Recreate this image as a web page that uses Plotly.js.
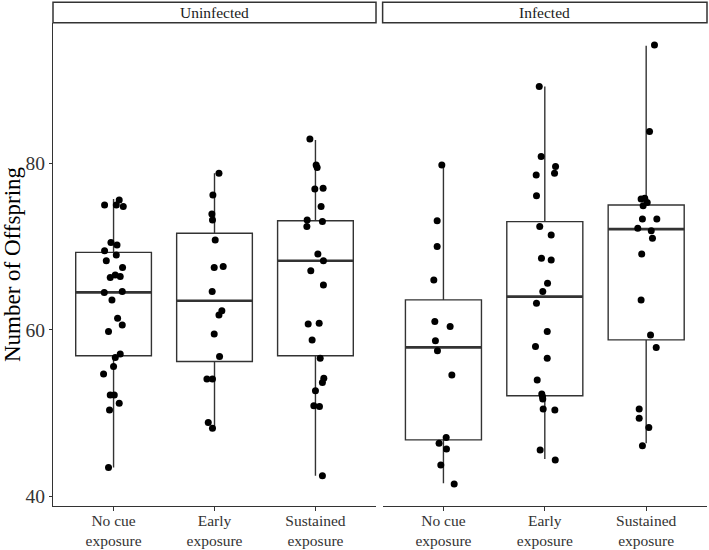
<!DOCTYPE html>
<html>
<head>
<meta charset="utf-8">
<script src="https://cdn.plot.ly/plotly-3.0.1.min.js"></script>
<style>html,body{margin:0;padding:0;background:#fff;}#chart{width:709px;height:550px;}</style>
</head>
<body>
<div id="chart"></div>
<script>
// ---- Data ----
const categories = ['No cue exposure', 'Early exposure', 'Sustained exposure'];
const tickLabels = ['No cue<br>exposure', 'Early<br>exposure', 'Sustained<br>exposure'];
const panels = ['Uninfected', 'Infected'];
const yTicks = [40, 60, 80];
const yTitle = 'Number of Offspring';

// Uninfected, No cue exposure
const uNoCueY   = [75.0, 75.6, 75.0, 74.8, 70.5, 70.2, 69.5, 69.0, 68.3, 67.5, 66.3, 66.6, 66.4, 64.5, 64.6, 63.6, 61.4, 60.6, 59.8, 57.1, 56.7, 55.6, 54.7, 52.2, 52.2, 51.2, 50.4, 43.5];
const uNoCueJit = [-0.089, 0.056, 0.027, 0.096, -0.026, 0.034, -0.089, 0.027, -0.072, 0.089, -0.033, 0.017, 0.066, -0.092, 0.086, -0.016, 0.040, 0.086, -0.050, 0.066, 0.017, 0.000, -0.099, -0.033, 0.007, 0.056, -0.040, -0.050];
// Uninfected, Early exposure
const uEarlyY   = [78.8, 76.2, 73.9, 73.2, 70.8, 67.5, 67.6, 64.6, 62.3, 61.8, 59.5, 56.8, 54.1, 54.1, 48.9, 48.2];
const uEarlyJit = [0.044, -0.016, -0.026, -0.020, 0.007, -0.003, 0.086, -0.023, 0.073, 0.044, -0.003, 0.050, -0.075, -0.020, -0.062, -0.020];
// Uninfected, Sustained exposure
const uSustY    = [82.9, 79.8, 79.5, 76.9, 77.0, 74.8, 73.2, 73.0, 72.4, 69.1, 68.3, 67.1, 65.4, 60.7, 60.8, 58.8, 56.6, 54.2, 53.7, 52.7, 50.9, 50.8, 42.5];
const uSustJit  = [-0.055, 0.007, 0.017, -0.006, 0.076, 0.056, -0.082, 0.069, -0.085, 0.024, 0.079, -0.046, 0.079, -0.072, 0.037, -0.033, 0.047, 0.083, 0.069, 0.000, -0.016, 0.040, 0.069];
// Infected, No cue exposure
const iNoCueY   = [79.8, 73.1, 70.0, 66.0, 61.0, 60.4, 58.7, 57.5, 54.6, 47.1, 46.4, 45.7, 43.8, 41.5];
const iNoCueJit = [-0.016, -0.062, -0.062, -0.095, -0.085, 0.066, -0.079, -0.059, 0.083, 0.027, -0.043, 0.030, -0.026, 0.106];
// Infected, Early exposure
const iEarlyY   = [89.2, 80.8, 79.6, 78.6, 78.8, 76.1, 72.4, 71.4, 68.6, 68.4, 65.6, 64.6, 63.2, 59.8, 58.0, 56.6, 54.0, 52.3, 52.0, 51.7, 50.5, 50.4, 45.6, 44.4];
const iEarlyJit = [-0.055, -0.036, 0.106, -0.085, 0.096, -0.082, -0.050, 0.063, -0.033, 0.063, 0.027, -0.020, -0.082, 0.024, -0.092, 0.024, -0.075, -0.030, -0.023, -0.020, -0.016, 0.099, -0.046, 0.103];
// Infected, Sustained exposure
const iSustY    = [94.2, 83.8, 75.7, 75.8, 75.3, 74.9, 73.3, 73.3, 72.2, 71.9, 71.0, 69.1, 63.6, 59.4, 57.9, 50.5, 49.4, 48.3, 46.1];
const iSustJit  = [0.082, 0.033, -0.050, -0.014, 0.010, -0.030, -0.037, 0.105, -0.083, 0.050, 0.062, -0.044, -0.050, 0.043, 0.099, -0.069, -0.069, 0.026, -0.037];

// Box statistics (No cue, Early, Sustained)
const uQ1 = [56.9, 56.2, 56.9], uMed = [64.5, 63.5, 68.3], uQ3 = [69.3, 71.6, 73.1], uLo = [43.5, 48.2, 42.5], uHi = [75.7, 78.8, 82.8];
const iQ1 = [46.8, 52.1, 58.8], iMed = [57.9, 64.0, 72.1], iQ3 = [63.6, 73.0, 75.0], iLo = [41.6, 44.5, 46.4], iHi = [79.8, 89.2, 94.1];

// ---- Build ----
const catIdx = categories.map((c, i) => i);
const FONT = 'Liberation Serif, Times New Roman, serif';
const INK = '#333333';

function boxTrace(xa, q1, med, q3, lo, hi, lw) {
  return {
    type: 'box', xaxis: xa, yaxis: 'y', x: catIdx,
    q1: q1, median: med, q3: q3, lowerfence: lo, upperfence: hi,
    width: 0.75, whiskerwidth: 0, boxpoints: false,
    fillcolor: 'rgba(255,255,255,1)', line: {color: INK, width: lw},
    hoverinfo: 'skip', showlegend: false
  };
}
function medianTrace(xa, med) {
  return boxTrace(xa, med, med, med, med, med, 2.6);
}
function pts(xa, idx, ys, jit) {
  return {
    type: 'scatter', mode: 'markers', xaxis: xa, yaxis: 'y',
    x: ys.map((_, k) => idx + jit[k]), y: ys,
    marker: {color: '#000', size: 7}, hoverinfo: 'skip', showlegend: false
  };
}

const traces = [
  boxTrace('x', uQ1, uMed, uQ3, uLo, uHi, 1.4),
  boxTrace('x2', iQ1, iMed, iQ3, iLo, iHi, 1.4),
  medianTrace('x', uMed),
  medianTrace('x2', iMed),
  pts('x', 0, uNoCueY, uNoCueJit),
  pts('x', 1, uEarlyY, uEarlyJit),
  pts('x', 2, uSustY, uSustJit),
  pts('x2', 0, iNoCueY, iNoCueJit),
  pts('x2', 1, iEarlyY, iEarlyJit),
  pts('x2', 2, iSustY, iSustJit)
];

const xCommon = {
  range: [-0.6, 2.6], tickvals: catIdx, ticktext: tickLabels,
  showline: true, linecolor: INK, linewidth: 1.2, mirror: false,
  ticks: 'outside', ticklen: 4, tickcolor: INK, tickwidth: 1,
  ticklabelstandoff: -4,
  showgrid: false, zeroline: false, anchor: 'y', fixedrange: true,
  tickfont: {family: FONT, size: 15.5, color: INK}
};

const stripH = 0.0429;
const layout = {
  width: 709, height: 550,
  margin: {l: 53, r: 2, t: 23, b: 44, pad: 0},
  paper_bgcolor: '#fff', plot_bgcolor: '#fff',
  showlegend: false,
  xaxis: Object.assign({}, xCommon, {domain: [0, 0.4939]}),
  xaxis2: Object.assign({}, xCommon, {domain: [0.504, 1]}),
  yaxis: {
    range: [38.865, 96.835], tickvals: yTicks,
    showline: true, linecolor: INK, linewidth: 1.2,
    ticks: 'outside', ticklen: 3, tickcolor: INK,
    showgrid: false, zeroline: false, anchor: 'x', fixedrange: true,
    tickfont: {family: FONT, size: 19.5, color: INK},
    title: {text: yTitle, font: {family: FONT, size: 23, color: '#000'}, standoff: 1}
  },
  shapes: [
    {type: 'rect', xref: 'x domain', yref: 'paper', x0: 0, x1: 1, y0: 1.0005, y1: 1 + stripH, line: {color: INK, width: 1.5}, fillcolor: '#fff'},
    {type: 'rect', xref: 'x2 domain', yref: 'paper', x0: 0, x1: 1, y0: 1.0005, y1: 1 + stripH, line: {color: INK, width: 1.5}, fillcolor: '#fff'}
  ],
  annotations: [
    {xref: 'x domain', yref: 'paper', x: 0.5, y: 1 + stripH / 2, text: panels[0], showarrow: false, xanchor: 'center', yanchor: 'middle', font: {family: FONT, size: 15.5, color: '#1a1a1a'}},
    {xref: 'x2 domain', yref: 'paper', x: 0.5, y: 1 + stripH / 2, text: panels[1], showarrow: false, xanchor: 'center', yanchor: 'middle', font: {family: FONT, size: 15.5, color: '#1a1a1a'}}
  ]
};

Plotly.newPlot('chart', traces, layout, {staticPlot: true, displayModeBar: false});
</script>
</body>
</html>
